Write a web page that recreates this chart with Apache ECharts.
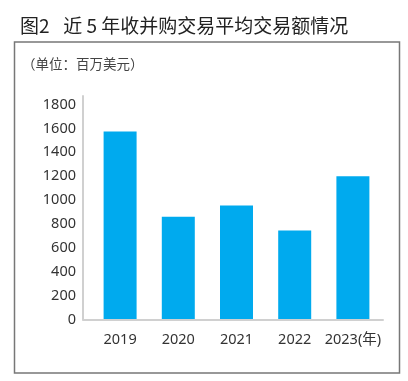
<!DOCTYPE html>
<html>
<head>
<meta charset="utf-8">
<script src="https://cdn.jsdelivr.net/npm/echarts@6/dist/echarts.min.js"></script>
<style>
html,body{margin:0;padding:0;background:#fff;}
#c{width:408px;height:381px;}
</style>
</head>
<body>
<div id="c"></div>
<script>
const categories = ['2019', '2020', '2021', '2022', '2023'];
const values = [1575, 860, 955, 745, 1200];
const yTicks = [0, 200, 400, 600, 800, 1000, 1200, 1400, 1600, 1800];
const titleText = '图2\u2002 近 5 年收并购交易平均交易额情况';
const unitText = '（单位：百万美元）';
const yearSuffix = '(年)';

const chart = echarts.init(document.getElementById('c'), null, {renderer: 'canvas'});
const font = '"Noto Sans", "Noto Sans CJK SC", sans-serif';
chart.setOption({
  animation: false,
  backgroundColor: '#fff',
  title: [{
    text: titleText,
    left: 15, top: 11,
    textStyle: {fontFamily: '"Noto Sans CJK SC", sans-serif', fontSize: 19, fontWeight: 'normal', color: '#222'}
  }, {
    text: unitText,
    left: 17, top: 52,
    textStyle: {fontFamily: '"Noto Sans CJK SC", sans-serif', fontSize: 13.5, fontWeight: 'normal', color: '#444'}
  }],
  graphic: [{
    type: 'rect',
    shape: {x: 14.5, y: 42, width: 385, height: 331},
    style: {fill: 'none', stroke: '#777', lineWidth: 1.5},
    silent: true
  }],
  grid: [
    {left: 83, top: 96, width: 300, height: 223.5, containLabel: false},
    {left: 91, top: 104.5, width: 291, height: 215, containLabel: false}
  ],
  xAxis: [{
    type: 'category', gridIndex: 0, data: categories,
    axisLine: {show: true, lineStyle: {color: '#d0d0d0', width: 2}},
    axisTick: {show: false}, axisLabel: {show: false}, z: 5
  }, {
    type: 'category', gridIndex: 1, data: categories,
    axisLine: {show: false}, axisTick: {show: false},
    axisLabel: {
      interval: 0, hideOverlap: false,
      margin: 13, fontFamily: font, fontSize: 14.5, color: '#333',
      formatter: function (v, i) { return i === categories.length - 1 ? v + yearSuffix : v; }
    }
  }],
  yAxis: [{
    type: 'value', gridIndex: 0, min: 0, max: 1,
    axisLine: {show: true, lineStyle: {color: '#d0d0d0', width: 2}},
    axisTick: {show: false}, axisLabel: {show: false}, splitLine: {show: false}, z: 5
  }, {
    type: 'value', gridIndex: 1, min: yTicks[0], max: yTicks[yTicks.length - 1], interval: 200,
    offset: 8,
    axisLine: {show: false}, axisTick: {show: false}, splitLine: {show: false},
    axisLabel: {margin: 7, fontFamily: font, fontSize: 14.5, color: '#333',
      formatter: function (v) { return String(v); }}
  }],
  series: [{
    type: 'bar', xAxisIndex: 1, yAxisIndex: 1,
    data: values, barWidth: 33,
    itemStyle: {color: '#00AAEE'}
  }]
});
</script>
</body>
</html>
